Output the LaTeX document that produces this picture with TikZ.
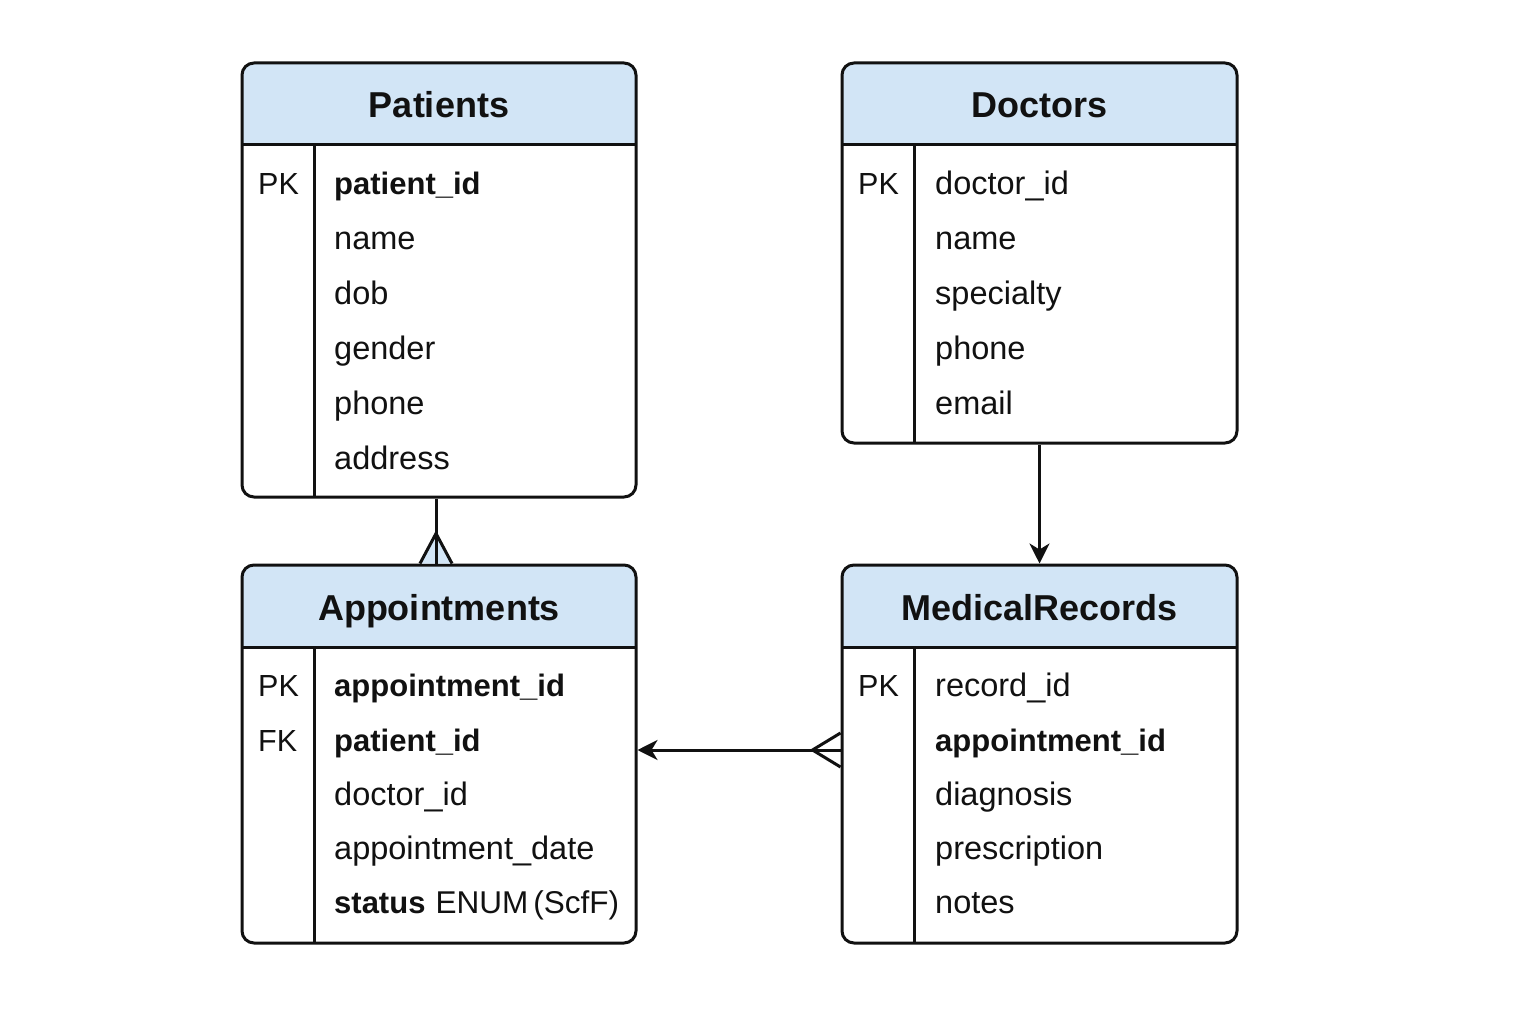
\documentclass[tikz,border=0pt]{standalone}
\usepackage{fontspec}
\setmainfont{Liberation Sans}
\usetikzlibrary{arrows.meta,calc}
\definecolor{hdrblue}{HTML}{D2E5F6}
\definecolor{ink}{HTML}{111111}
\tikzset{
  tablebox/.style={draw=ink, line width=3pt, rounded corners=12pt, rectangle, inner sep=0pt},
  rule/.style={draw=ink, line width=3pt},
  conn/.style={draw=ink, line width=3pt},
  titletext/.style={font=\fontsize{36}{40}\selectfont\bfseries, anchor=base, inner sep=0pt, text=ink},
  keytext/.style={font=\fontsize{30.5}{34}\selectfont, anchor=base west, inner sep=0pt, text=ink},
  fieldtext/.style={font=\fontsize{32.5}{36}\selectfont, anchor=base west, inner sep=0pt, text=ink},
  boldfield/.style={fieldtext, font=\fontsize{31}{36}\selectfont\bfseries},
}
\begin{document}
\begin{tikzpicture}[x=1pt,y=-1pt]
\useasboundingbox[fill=white] (0,0) rectangle (1536,1024);

% ---------- Patients ----------
\fill[hdrblue] (242,145) [rounded corners=12pt] -- (242,63) -- (636,63) [sharp corners] -- (636,145) -- cycle;
\node[tablebox, minimum width=394pt, minimum height=434pt] (pat) at (439,280) {};
\draw[rule] (242,145) -- (636,145);
\draw[rule] (314,145) -- (314,497);
\node[titletext] (patT) at (439,118) {Patients};
\node[keytext] (patK1) at (258,195) {PK};
\node[boldfield] (patF1) at (334,195) {patient\_id};
\node[fieldtext] (patF2) at (334,250) {name};
\node[fieldtext] (patF3) at (334,304) {dob};
\node[fieldtext] (patF4) at (334,359) {gender};
\node[fieldtext] (patF5) at (334,414) {phone};
\node[fieldtext] (patF6) at (334,469) {address};

% ---------- Doctors ----------
\fill[hdrblue] (842,145) [rounded corners=12pt] -- (842,63) -- (1237,63) [sharp corners] -- (1237,145) -- cycle;
\node[tablebox, minimum width=395pt, minimum height=380pt] (doc) at (1039.5,253) {};
\draw[rule] (842,145) -- (1237,145);
\draw[rule] (914,145) -- (914,443);
\node[titletext] (docT) at (1039.5,118) {Doctors};
\node[keytext] (docK1) at (858,195) {PK};
\node[fieldtext] (docF1) at (935,195) {doctor\_id};
\node[fieldtext] (docF2) at (935,250) {name};
\node[fieldtext] (docF3) at (935,304) {specialty};
\node[fieldtext] (docF4) at (935,359) {phone};
\node[fieldtext] (docF5) at (935,414) {email};

% ---------- Appointments ----------
\fill[hdrblue] (242,647) [rounded corners=12pt] -- (242,565) -- (636,565) [sharp corners] -- (636,647) -- cycle;
\node[tablebox, minimum width=394pt, minimum height=378pt] (app) at (439,754) {};
\draw[rule] (242,647) -- (636,647);
\draw[rule] (314,647) -- (314,943);
\node[titletext] (appT) at (439,620) {Appointments};
\node[keytext] (appK1) at (258,696) {PK};
\node[keytext] (appK2) at (258,751) {FK};
\node[boldfield] (appF1) at (334,696) {appointment\_id};
\node[boldfield] (appF2) at (334,751) {patient\_id};
\node[fieldtext] (appF3) at (334,805) {doctor\_id};
\node[fieldtext] (appF4) at (334,859) {appointment\_date};
\node[fieldtext] (appF5) at (334,913) {{\fontsize{31}{36}\selectfont\bfseries status}\hspace{10pt}{\fontsize{31.5}{36}\selectfont ENUM\,(ScfF)}};

% ---------- MedicalRecords ----------
\fill[hdrblue] (842,647) [rounded corners=12pt] -- (842,565) -- (1237,565) [sharp corners] -- (1237,647) -- cycle;
\node[tablebox, minimum width=395pt, minimum height=378pt] (med) at (1039.5,754) {};
\draw[rule] (842,647) -- (1237,647);
\draw[rule] (914,647) -- (914,943);
\node[titletext] (medT) at (1039.5,620) {MedicalRecords};
\node[keytext] (medK1) at (858,696) {PK};
\node[fieldtext] (medF1) at (935,696) {record\_id};
\node[boldfield] (medF2) at (935,751) {appointment\_id};
\node[fieldtext] (medF3) at (935,805) {diagnosis};
\node[fieldtext] (medF4) at (935,859) {prescription};
\node[fieldtext] (medF5) at (935,913) {notes};

% ---------- Connectors ----------
\coordinate (pcA) at ($(pat.south)+(-3,0)$);
\coordinate (pcB) at ($(app.north)+(-3,0)$);
\filldraw[conn, fill=hdrblue, line join=miter] ($(pcB)+(-16,0)$) -- ($(pcB)+(0,-30)$) -- ($(pcB)+(16,0)$);
\draw[conn] (pcA) -- (pcB);

\draw[conn, -{Stealth[length=20pt,width=20pt,inset=6pt]}] (doc.south) -- (med.north);

\coordinate (mrA) at ($(med.west)+(0,-4)$);
\coordinate (apA) at ($(app.east)+(0,-4)$);
\draw[conn, line join=miter] ($(mrA)+(0,-17)$) -- ($(mrA)+(-28,0)$) -- ($(mrA)+(0,17)$);
\draw[conn, -{Stealth[length=20pt,width=20pt,inset=6pt]}] (mrA) -- (apA);
\end{tikzpicture}
\end{document}
